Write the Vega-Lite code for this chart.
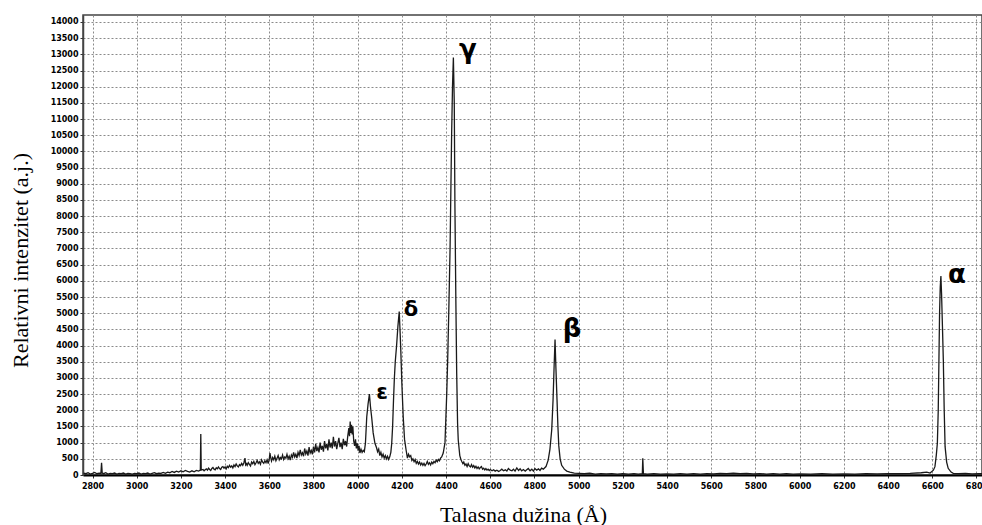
{
  "$schema": "https://vega.github.io/schema/vega-lite/v6.json",
  "width": 899,
  "height": 460,
  "autosize": "none",
  "padding": {"left": 83, "top": 15, "right": 0, "bottom": 50},
  "background": "white",
  "config": {
    "view": {"stroke": "#444", "strokeWidth": 1.5},
    "axis": {
      "labelFont": "DejaVu Sans",
      "labelFontWeight": "bold",
      "labelFontSize": 8,
      "labelColor": "#000",
      "labelOverlap": false,
      "labelBound": false,
      "labelFlush": false,
      "tickColor": "#333",
      "tickSize": 3,
      "gridColor": "#8a8a8a",
      "gridDash": [2, 2],
      "gridWidth": 1,
      "titleFont": "Liberation Serif",
      "titleFontWeight": "normal",
      "titleFontSize": 22,
      "titleColor": "#000"
    }
  },
  "datasets": {
    "spectrum": [
      {"wl": 2760, "I": 60}, {"wl": 2770, "I": 40}, {"wl": 2780, "I": 70}, {"wl": 2790, "I": 30}, {"wl": 2800, "I": 50},
      {"wl": 2810, "I": 80}, {"wl": 2820, "I": 40}, {"wl": 2830, "I": 60}, {"wl": 2838, "I": 50}, {"wl": 2841, "I": 380},
      {"wl": 2844, "I": 60}, {"wl": 2850, "I": 40}, {"wl": 2860, "I": 70}, {"wl": 2870, "I": 30}, {"wl": 2880, "I": 50},
      {"wl": 2890, "I": 40}, {"wl": 2900, "I": 60}, {"wl": 2910, "I": 30}, {"wl": 2920, "I": 50}, {"wl": 2930, "I": 40},
      {"wl": 2940, "I": 60}, {"wl": 2950, "I": 30}, {"wl": 2960, "I": 50}, {"wl": 2970, "I": 40}, {"wl": 2980, "I": 30},
      {"wl": 2990, "I": 50}, {"wl": 3000, "I": 40}, {"wl": 3010, "I": 60}, {"wl": 3020, "I": 30}, {"wl": 3030, "I": 50},
      {"wl": 3040, "I": 40}, {"wl": 3050, "I": 60}, {"wl": 3060, "I": 30}, {"wl": 3070, "I": 50}, {"wl": 3080, "I": 70},
      {"wl": 3090, "I": 40}, {"wl": 3100, "I": 60}, {"wl": 3110, "I": 50}, {"wl": 3120, "I": 80}, {"wl": 3130, "I": 50},
      {"wl": 3140, "I": 90}, {"wl": 3150, "I": 70}, {"wl": 3160, "I": 110}, {"wl": 3170, "I": 80}, {"wl": 3180, "I": 120},
      {"wl": 3190, "I": 90}, {"wl": 3200, "I": 130}, {"wl": 3210, "I": 100}, {"wl": 3220, "I": 140}, {"wl": 3230, "I": 110},
      {"wl": 3240, "I": 90}, {"wl": 3250, "I": 130}, {"wl": 3260, "I": 100}, {"wl": 3270, "I": 140}, {"wl": 3280, "I": 120},
      {"wl": 3288, "I": 150}, {"wl": 3290, "I": 1270}, {"wl": 3292, "I": 150},
      {"wl": 3300, "I": 170}, {"wl": 3305, "I": 130}, {"wl": 3310, "I": 160}, {"wl": 3315, "I": 190}, {"wl": 3320, "I": 150},
      {"wl": 3325, "I": 210}, {"wl": 3330, "I": 170}, {"wl": 3335, "I": 140}, {"wl": 3340, "I": 200}, {"wl": 3345, "I": 230},
      {"wl": 3350, "I": 180}, {"wl": 3355, "I": 160}, {"wl": 3360, "I": 220}, {"wl": 3365, "I": 190}, {"wl": 3370, "I": 250},
      {"wl": 3375, "I": 200}, {"wl": 3380, "I": 170}, {"wl": 3385, "I": 240}, {"wl": 3390, "I": 260}, {"wl": 3395, "I": 210},
      {"wl": 3400, "I": 250}, {"wl": 3405, "I": 190}, {"wl": 3410, "I": 270}, {"wl": 3415, "I": 230}, {"wl": 3420, "I": 300},
      {"wl": 3425, "I": 240}, {"wl": 3430, "I": 280}, {"wl": 3435, "I": 220}, {"wl": 3440, "I": 310}, {"wl": 3445, "I": 260},
      {"wl": 3450, "I": 340}, {"wl": 3455, "I": 280}, {"wl": 3460, "I": 250}, {"wl": 3465, "I": 320}, {"wl": 3470, "I": 290},
      {"wl": 3475, "I": 360}, {"wl": 3480, "I": 300}, {"wl": 3485, "I": 380}, {"wl": 3490, "I": 520}, {"wl": 3493, "I": 310},
      {"wl": 3497, "I": 350}, {"wl": 3500, "I": 300}, {"wl": 3505, "I": 380}, {"wl": 3510, "I": 330}, {"wl": 3515, "I": 280},
      {"wl": 3520, "I": 400}, {"wl": 3525, "I": 350}, {"wl": 3530, "I": 420}, {"wl": 3535, "I": 320}, {"wl": 3540, "I": 380},
      {"wl": 3545, "I": 450}, {"wl": 3550, "I": 360}, {"wl": 3555, "I": 410}, {"wl": 3560, "I": 330}, {"wl": 3565, "I": 470},
      {"wl": 3570, "I": 400}, {"wl": 3575, "I": 360}, {"wl": 3580, "I": 440}, {"wl": 3585, "I": 380}, {"wl": 3590, "I": 470},
      {"wl": 3595, "I": 350}, {"wl": 3600, "I": 500}, {"wl": 3603, "I": 680}, {"wl": 3607, "I": 520}, {"wl": 3610, "I": 430},
      {"wl": 3615, "I": 540}, {"wl": 3620, "I": 470}, {"wl": 3625, "I": 580}, {"wl": 3630, "I": 440}, {"wl": 3635, "I": 520},
      {"wl": 3640, "I": 600}, {"wl": 3645, "I": 470}, {"wl": 3650, "I": 540}, {"wl": 3655, "I": 500}, {"wl": 3660, "I": 620},
      {"wl": 3665, "I": 480}, {"wl": 3670, "I": 560}, {"wl": 3675, "I": 520}, {"wl": 3680, "I": 640}, {"wl": 3685, "I": 500},
      {"wl": 3690, "I": 580}, {"wl": 3695, "I": 460}, {"wl": 3700, "I": 620}, {"wl": 3705, "I": 550}, {"wl": 3710, "I": 700},
      {"wl": 3715, "I": 560}, {"wl": 3720, "I": 640}, {"wl": 3725, "I": 520}, {"wl": 3730, "I": 700}, {"wl": 3735, "I": 600},
      {"wl": 3740, "I": 780}, {"wl": 3745, "I": 620}, {"wl": 3750, "I": 690}, {"wl": 3755, "I": 580}, {"wl": 3760, "I": 820},
      {"wl": 3765, "I": 650}, {"wl": 3770, "I": 740}, {"wl": 3775, "I": 600}, {"wl": 3780, "I": 860}, {"wl": 3785, "I": 680},
      {"wl": 3790, "I": 760}, {"wl": 3795, "I": 640}, {"wl": 3800, "I": 880}, {"wl": 3805, "I": 700}, {"wl": 3810, "I": 960},
      {"wl": 3815, "I": 740}, {"wl": 3820, "I": 850}, {"wl": 3825, "I": 700}, {"wl": 3830, "I": 1000}, {"wl": 3835, "I": 780},
      {"wl": 3840, "I": 900}, {"wl": 3845, "I": 720}, {"wl": 3850, "I": 1050}, {"wl": 3855, "I": 820}, {"wl": 3860, "I": 960},
      {"wl": 3865, "I": 760}, {"wl": 3870, "I": 1100}, {"wl": 3875, "I": 850}, {"wl": 3880, "I": 1000}, {"wl": 3885, "I": 820},
      {"wl": 3890, "I": 1180}, {"wl": 3895, "I": 880}, {"wl": 3900, "I": 1050}, {"wl": 3905, "I": 800}, {"wl": 3910, "I": 980},
      {"wl": 3915, "I": 1150}, {"wl": 3920, "I": 860}, {"wl": 3925, "I": 1000}, {"wl": 3930, "I": 800}, {"wl": 3935, "I": 1120},
      {"wl": 3940, "I": 920}, {"wl": 3945, "I": 1050}, {"wl": 3950, "I": 880}, {"wl": 3955, "I": 1200}, {"wl": 3960, "I": 1450},
      {"wl": 3963, "I": 1200}, {"wl": 3966, "I": 1650}, {"wl": 3969, "I": 1300}, {"wl": 3972, "I": 1550}, {"wl": 3975, "I": 1250},
      {"wl": 3978, "I": 1500}, {"wl": 3982, "I": 1050}, {"wl": 3986, "I": 900}, {"wl": 3990, "I": 1100}, {"wl": 3994, "I": 820},
      {"wl": 3998, "I": 980}, {"wl": 4002, "I": 750}, {"wl": 4006, "I": 900}, {"wl": 4010, "I": 680}, {"wl": 4015, "I": 800},
      {"wl": 4020, "I": 700}, {"wl": 4025, "I": 760}, {"wl": 4030, "I": 720},
      {"wl": 4035, "I": 980}, {"wl": 4041, "I": 1800}, {"wl": 4047, "I": 2200}, {"wl": 4053, "I": 2500},
      {"wl": 4058, "I": 2100}, {"wl": 4063, "I": 1800}, {"wl": 4070, "I": 1300}, {"wl": 4078, "I": 980}, {"wl": 4085, "I": 850},
      {"wl": 4090, "I": 720}, {"wl": 4095, "I": 800}, {"wl": 4100, "I": 600}, {"wl": 4105, "I": 700}, {"wl": 4110, "I": 560},
      {"wl": 4115, "I": 640}, {"wl": 4120, "I": 520}, {"wl": 4125, "I": 600}, {"wl": 4130, "I": 500}, {"wl": 4135, "I": 580},
      {"wl": 4140, "I": 480}, {"wl": 4145, "I": 560}, {"wl": 4150, "I": 700}, {"wl": 4154, "I": 980}, {"wl": 4158, "I": 1500}, {"wl": 4162, "I": 2300},
      {"wl": 4166, "I": 3000}, {"wl": 4170, "I": 3500}, {"wl": 4176, "I": 4000}, {"wl": 4182, "I": 4600}, {"wl": 4188, "I": 5050},
      {"wl": 4192, "I": 4400}, {"wl": 4195, "I": 3860}, {"wl": 4200, "I": 2800}, {"wl": 4206, "I": 1800}, {"wl": 4212, "I": 1100},
      {"wl": 4219, "I": 773}, {"wl": 4225, "I": 520}, {"wl": 4230, "I": 640}, {"wl": 4235, "I": 560}, {"wl": 4240, "I": 600},
      {"wl": 4245, "I": 450}, {"wl": 4250, "I": 500}, {"wl": 4255, "I": 410}, {"wl": 4260, "I": 480}, {"wl": 4265, "I": 360},
      {"wl": 4270, "I": 420}, {"wl": 4275, "I": 340}, {"wl": 4280, "I": 400}, {"wl": 4285, "I": 310}, {"wl": 4290, "I": 370},
      {"wl": 4295, "I": 300}, {"wl": 4300, "I": 360}, {"wl": 4305, "I": 290}, {"wl": 4310, "I": 340}, {"wl": 4315, "I": 420},
      {"wl": 4320, "I": 330}, {"wl": 4325, "I": 380}, {"wl": 4330, "I": 310}, {"wl": 4335, "I": 400}, {"wl": 4340, "I": 350},
      {"wl": 4345, "I": 420}, {"wl": 4350, "I": 380}, {"wl": 4355, "I": 460}, {"wl": 4360, "I": 410}, {"wl": 4365, "I": 480},
      {"wl": 4370, "I": 440}, {"wl": 4375, "I": 520}, {"wl": 4380, "I": 560}, {"wl": 4387, "I": 680}, {"wl": 4395, "I": 1000}, {"wl": 4403, "I": 2530},
      {"wl": 4407, "I": 3500}, {"wl": 4412, "I": 5000}, {"wl": 4418, "I": 7000}, {"wl": 4422, "I": 9000}, {"wl": 4425, "I": 10500},
      {"wl": 4429, "I": 12000}, {"wl": 4433, "I": 12900}, {"wl": 4437, "I": 11500}, {"wl": 4440, "I": 8300}, {"wl": 4444, "I": 5500},
      {"wl": 4448, "I": 3140}, {"wl": 4452, "I": 1600}, {"wl": 4455, "I": 1080}, {"wl": 4462, "I": 600}, {"wl": 4467, "I": 480},
      {"wl": 4471, "I": 420}, {"wl": 4476, "I": 350}, {"wl": 4480, "I": 400}, {"wl": 4485, "I": 300}, {"wl": 4490, "I": 340},
      {"wl": 4495, "I": 260}, {"wl": 4500, "I": 350}, {"wl": 4505, "I": 280}, {"wl": 4510, "I": 250}, {"wl": 4515, "I": 320},
      {"wl": 4520, "I": 240}, {"wl": 4525, "I": 290}, {"wl": 4530, "I": 220}, {"wl": 4535, "I": 270}, {"wl": 4540, "I": 200},
      {"wl": 4545, "I": 250}, {"wl": 4550, "I": 190}, {"wl": 4555, "I": 230}, {"wl": 4560, "I": 260}, {"wl": 4565, "I": 180},
      {"wl": 4570, "I": 210}, {"wl": 4575, "I": 160}, {"wl": 4580, "I": 200}, {"wl": 4585, "I": 150}, {"wl": 4590, "I": 180},
      {"wl": 4595, "I": 140}, {"wl": 4600, "I": 170}, {"wl": 4608, "I": 130}, {"wl": 4615, "I": 160}, {"wl": 4622, "I": 120},
      {"wl": 4630, "I": 150}, {"wl": 4638, "I": 110}, {"wl": 4645, "I": 140}, {"wl": 4652, "I": 180}, {"wl": 4660, "I": 130},
      {"wl": 4668, "I": 160}, {"wl": 4675, "I": 120}, {"wl": 4682, "I": 200}, {"wl": 4690, "I": 150}, {"wl": 4698, "I": 130},
      {"wl": 4705, "I": 180}, {"wl": 4712, "I": 120}, {"wl": 4720, "I": 220}, {"wl": 4728, "I": 140}, {"wl": 4735, "I": 190},
      {"wl": 4742, "I": 130}, {"wl": 4750, "I": 170}, {"wl": 4758, "I": 120}, {"wl": 4765, "I": 160}, {"wl": 4772, "I": 200},
      {"wl": 4780, "I": 130}, {"wl": 4788, "I": 180}, {"wl": 4795, "I": 120}, {"wl": 4802, "I": 200}, {"wl": 4810, "I": 150},
      {"wl": 4818, "I": 190}, {"wl": 4825, "I": 140}, {"wl": 4832, "I": 210}, {"wl": 4840, "I": 180}, {"wl": 4852, "I": 260},
      {"wl": 4862, "I": 460}, {"wl": 4870, "I": 800}, {"wl": 4878, "I": 1400}, {"wl": 4884, "I": 2318}, {"wl": 4889, "I": 3400},
      {"wl": 4893, "I": 4190}, {"wl": 4897, "I": 3300}, {"wl": 4902, "I": 2318}, {"wl": 4906, "I": 1500}, {"wl": 4910, "I": 900},
      {"wl": 4916, "I": 500}, {"wl": 4923, "I": 300}, {"wl": 4935, "I": 180}, {"wl": 4946, "I": 120}, {"wl": 4960, "I": 90},
      {"wl": 4980, "I": 60}, {"wl": 5000, "I": 50}, {"wl": 5025, "I": 40}, {"wl": 5050, "I": 55}, {"wl": 5075, "I": 30},
      {"wl": 5100, "I": 45}, {"wl": 5125, "I": 35}, {"wl": 5150, "I": 40}, {"wl": 5175, "I": 30}, {"wl": 5200, "I": 45},
      {"wl": 5225, "I": 30}, {"wl": 5250, "I": 40}, {"wl": 5270, "I": 30}, {"wl": 5288, "I": 40}, {"wl": 5290, "I": 516},
      {"wl": 5293, "I": 40}, {"wl": 5310, "I": 30}, {"wl": 5340, "I": 40}, {"wl": 5370, "I": 25}, {"wl": 5400, "I": 35},
      {"wl": 5430, "I": 30}, {"wl": 5460, "I": 45}, {"wl": 5490, "I": 30}, {"wl": 5520, "I": 40}, {"wl": 5550, "I": 30},
      {"wl": 5580, "I": 45}, {"wl": 5610, "I": 35}, {"wl": 5640, "I": 50}, {"wl": 5670, "I": 40}, {"wl": 5700, "I": 55},
      {"wl": 5730, "I": 40}, {"wl": 5760, "I": 50}, {"wl": 5790, "I": 35}, {"wl": 5820, "I": 45}, {"wl": 5850, "I": 30},
      {"wl": 5880, "I": 40}, {"wl": 5910, "I": 30}, {"wl": 5940, "I": 40}, {"wl": 5970, "I": 30}, {"wl": 6000, "I": 35},
      {"wl": 6050, "I": 30}, {"wl": 6100, "I": 40}, {"wl": 6150, "I": 30}, {"wl": 6200, "I": 35}, {"wl": 6250, "I": 30},
      {"wl": 6300, "I": 40}, {"wl": 6350, "I": 35}, {"wl": 6400, "I": 40}, {"wl": 6450, "I": 45}, {"wl": 6500, "I": 50},
      {"wl": 6550, "I": 70}, {"wl": 6575, "I": 90}, {"wl": 6590, "I": 60}, {"wl": 6605, "I": 150}, {"wl": 6612, "I": 257},
      {"wl": 6618, "I": 600}, {"wl": 6623, "I": 980}, {"wl": 6627, "I": 2000}, {"wl": 6630, "I": 3500}, {"wl": 6633, "I": 5000},
      {"wl": 6636, "I": 5800}, {"wl": 6639, "I": 6150}, {"wl": 6642, "I": 5600}, {"wl": 6646, "I": 4600}, {"wl": 6650, "I": 3550},
      {"wl": 6654, "I": 2000}, {"wl": 6658, "I": 875}, {"wl": 6665, "I": 400}, {"wl": 6672, "I": 206}, {"wl": 6685, "I": 90},
      {"wl": 6695, "I": 50}, {"wl": 6720, "I": 40}, {"wl": 6750, "I": 50}, {"wl": 6780, "I": 35}, {"wl": 6810, "I": 45},
      {"wl": 6830, "I": 40}
    ],
    "labels": [
      {"wl": 4499, "I": 13148, "label": "γ"},
      {"wl": 4241, "I": 5114, "label": "δ"},
      {"wl": 4110, "I": 2549, "label": "ε"},
      {"wl": 4970, "I": 4511, "label": "β"},
      {"wl": 6712, "I": 6195, "label": "α"}
    ]
  },
  "encoding": {
    "x": {
      "field": "wl", "type": "quantitative",
      "scale": {"domain": [2757, 6825], "nice": false, "zero": false},
      "axis": {
        "title": "Talasna dužina (Å)",
        "values": [2800, 3000, 3200, 3400, 3600, 3800, 4000, 4200, 4400, 4600, 4800, 5000, 5200, 5400, 5600, 5800, 6000, 6200, 6400, 6600, 6800],
        "format": "d",
        "domainColor": "#000",
        "domainWidth": 2,
        "labelPadding": 4,
        "titleX": 440,
        "titleY": 46,
        "titleAnchor": null,
        "titleAlign": "center",
        "titleBaseline": "alphabetic"
      }
    },
    "y": {
      "field": "I", "type": "quantitative",
      "scale": {"domain": [0, 14216], "nice": false, "zero": true},
      "axis": {
        "title": "Relativni intenzitet (a.j.)",
        "values": [0, 500, 1000, 1500, 2000, 2500, 3000, 3500, 4000, 4500, 5000, 5500, 6000, 6500, 7000, 7500, 8000, 8500, 9000, 9500, 10000, 10500, 11000, 11500, 12000, 12500, 13000, 13500, 14000],
        "format": "d",
        "domainColor": "#444",
        "domainWidth": 1.5,
        "labelPadding": 2,
        "titleAngle": -90,
        "titleX": -63,
        "titleY": 245,
        "titleAnchor": null,
        "titleAlign": "center",
        "titleBaseline": "middle"
      }
    }
  },
  "layer": [
    {
      "data": {"name": "spectrum"},
      "mark": {"type": "line", "color": "#1a1a1a", "strokeWidth": 1.3, "clip": true, "interpolate": "linear"}
    },
    {
      "data": {"name": "labels"},
      "transform": [{"filter": "datum.label === 'δ' || datum.label === 'ε'"}],
      "mark": {"type": "text", "font": "DejaVu Sans", "fontWeight": "bold", "fontSize": 21, "color": "#000", "align": "center", "baseline": "middle"},
      "encoding": {"text": {"field": "label"}}
    },
    {
      "data": {"name": "labels"},
      "transform": [{"filter": "datum.label !== 'δ' && datum.label !== 'ε'"}],
      "mark": {"type": "text", "font": "DejaVu Sans", "fontWeight": "bold", "fontSize": 26, "color": "#000", "align": "center", "baseline": "middle"},
      "encoding": {"text": {"field": "label"}}
    }
  ]
}
